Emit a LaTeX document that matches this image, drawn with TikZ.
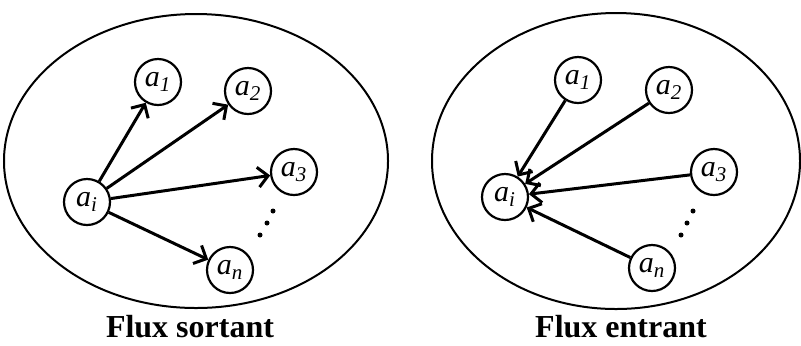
\documentclass[tikz,border=0pt]{standalone}
\usepackage{fontspec}
\setmainfont{Liberation Serif}
\usetikzlibrary{arrows.meta}

\newcommand{\elem}[1]{\textit{a}\textsubscript{\textit{#1}}}

\begin{document}
\begin{tikzpicture}[x=0.5pt, y=-0.5pt, >={Straight Barb[length=5pt, width=10pt]}]
  \tikzset{
    vertex/.style={draw, circle, line width=1.1pt, minimum size=23pt, inner sep=0pt,
                   font=\fontsize{15}{18}\selectfont},
    flux/.style={->, line width=1.5pt},
    title/.style={font=\fontsize{16}{19}\selectfont\bfseries}
  }
  \useasboundingbox (0,0) rectangle (801,345);

  % Outgoing flux
  \draw[line width=1pt] (196,161) ellipse (192 and 147);
  \node[vertex] (Si) at (87,202)  {\elem{i}};
  \node[vertex] (S1) at (158,82)  {\elem{1}};
  \node[vertex] (S2) at (248,91)  {\elem{2}};
  \node[vertex] (S3) at (294,172) {\elem{3}};
  \node[vertex] (Sn) at (230,270) {\elem{n}};
  \foreach \k in {1,2,3,n}
    \draw[flux] (Si) -- (S\k);
  \foreach \p in {(273,211),(267,223),(260,235)}
    \fill \p circle (2.5);
  \node[title] (St) at (190,327) {Flux sortant};

  % Incoming flux
  \draw[line width=1pt] (616,161) ellipse (184 and 148);
  \node[vertex] (Ei) at (505,197) {\elem{i}};
  \node[vertex] (E1) at (578,80)  {\elem{1}};
  \node[vertex] (E2) at (669,90)  {\elem{2}};
  \node[vertex] (E3) at (714,172) {\elem{3}};
  \node[vertex] (En) at (652,268) {\elem{n}};
  \foreach \k in {1,2,3,n}
    \draw[flux] (E\k) -- (Ei);
  \foreach \p in {(693,211),(687,223),(681,235)}
    \fill \p circle (2.5);
  \node[title] (Et) at (621,327) {Flux entrant};

\end{tikzpicture}
\end{document}
